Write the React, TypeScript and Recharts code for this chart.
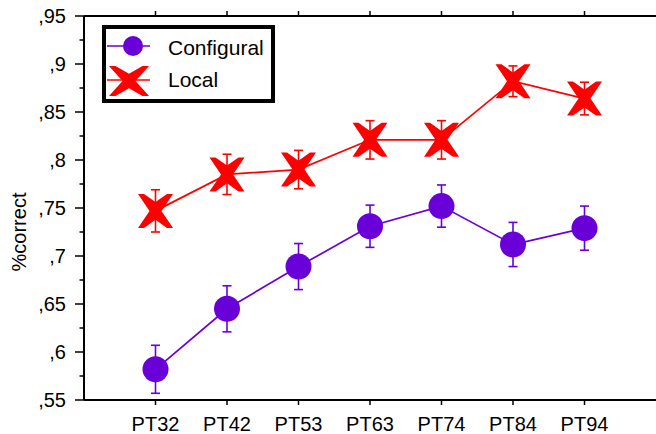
import { LineChart, Line, XAxis, YAxis, ErrorBar, Legend } from "recharts";

const PURPLE = "#6a00d8";
const RED = "#ff0000";
const FONT = "'Liberation Sans', Arial, sans-serif";

// conditions along the x axis
const conditions = ["PT32", "PT42", "PT53", "PT63", "PT74", "PT84", "PT94"];

// proportion correct and its error per condition
const configural = [0.582, 0.645, 0.689, 0.731, 0.752, 0.712, 0.729];
const configuralErr = [0.025, 0.024, 0.024, 0.022, 0.022, 0.023, 0.023];
const local = [0.747, 0.785, 0.79, 0.821, 0.821, 0.882, 0.864];
const localErr = [0.022, 0.021, 0.02, 0.02, 0.02, 0.016, 0.017];

// y axis ticks
const yMajor = [0.55, 0.6, 0.65, 0.7, 0.75, 0.8, 0.85, 0.9, 0.95];
const yMajorLabels = [",55", ",6", ",65", ",7", ",75", ",8", ",85", ",9", ",95"];
const yMinor = [0.575, 0.625, 0.675, 0.725, 0.775, 0.825, 0.875, 0.925];

const data = conditions.map((name, i) => ({
  pos: i + 1,
  name,
  configural: configural[i],
  configuralErr: configuralErr[i],
  local: local[i],
  localErr: localErr[i],
}));
const xTicks = data.map((d) => d.pos);

// chunky "X" marker as a polygon with flat horizontal ends
const crossPoints = (cx: number, cy: number, halfW: number, halfH: number, arm: number) => {
  const a = arm / 2;
  const inner = halfW - a;
  const notchY = (halfH / (halfW - a)) * a;
  const pts = [
    [-halfW, -halfH], [-inner, -halfH], [0, -notchY], [inner, -halfH], [halfW, -halfH],
    [a, 0], [halfW, halfH], [inner, halfH], [0, notchY], [-inner, halfH], [-halfW, halfH], [-a, 0],
  ];
  return pts.map(([x, y]) => `${cx + x},${cy + y}`).join(" ");
};

// eslint-disable-next-line @typescript-eslint/no-explicit-any
const CircleDot = (props: any) => {
  const { cx, cy } = props;
  if (cx == null || cy == null) return null;
  return <circle cx={cx} cy={cy} r={13} fill={PURPLE} />;
};

// eslint-disable-next-line @typescript-eslint/no-explicit-any
const CrossDot = (props: any) => {
  const { cx, cy } = props;
  if (cx == null || cy == null) return null;
  return <polygon points={crossPoints(cx, cy, 17.5, 17, 12)} fill={RED} />;
};

// eslint-disable-next-line @typescript-eslint/no-explicit-any
const YTick = (props: any) => {
  const { x, y, payload } = props;
  const axisX = x + 18;
  const idx = yMajor.indexOf(payload.value);
  const major = idx >= 0;
  return (
    <g>
      <line x1={axisX - (major ? 9 : 4.5)} x2={axisX} y1={y} y2={y} stroke="#000" strokeWidth={1.5} />
      {major && (
        <text x={x} y={y} dy="0.355em" textAnchor="end" fontSize={20} fontFamily={FONT} fill="#000">
          {yMajorLabels[idx]}
        </text>
      )}
    </g>
  );
};

// eslint-disable-next-line @typescript-eslint/no-explicit-any
const YLabel = (props: any) => {
  const { viewBox } = props;
  const cx = 19;
  const cy = viewBox.y + viewBox.height / 2 + 24;
  return (
    <text
      x={cx}
      y={cy}
      transform={`rotate(-90, ${cx}, ${cy})`}
      textAnchor="middle"
      dominantBaseline="central"
      fontSize={20}
      fontFamily={FONT}
      fill="#000"
    >
      %correct
    </text>
  );
};

const LegendBox = () => (
  <div
    style={{
      width: 173,
      height: 78,
      border: "4px solid #000",
      boxSizing: "border-box",
      background: "#fff",
      position: "relative",
    }}
  >
    <svg width={165} height={70} style={{ position: "absolute", left: 0, top: 0 }}>
      <line x1={1} x2={44} y1={17} y2={17} stroke={PURPLE} strokeWidth={1.7} />
      <circle cx={27} cy={17} r={10} fill={PURPLE} />
      <text x={62} y={18} dominantBaseline="central" fontSize={21} fontFamily={FONT} fill="#000">
        Configural
      </text>
      <line x1={1} x2={44} y1={51} y2={51} stroke={RED} strokeWidth={1.7} />
      <polygon points={crossPoints(23, 52, 20, 15, 13)} fill={RED} />
      <text x={62} y={50} dominantBaseline="central" fontSize={21} fontFamily={FONT} fill="#000">
        Local
      </text>
    </svg>
  </div>
);

const tickText = { fontSize: 20, fontFamily: FONT, fill: "#000" };

export default function App() {
  return (
    <div style={{ position: "absolute", left: 0, top: 0, background: "#fff" }}>
      <LineChart width={656} height={434} data={data} margin={{ top: 0, right: 0, bottom: 0, left: 0 }}>
        <XAxis
          dataKey="pos"
          type="number"
          domain={[0, 8]}
          ticks={xTicks}
          interval={0}
          height={34}
          tickSize={5}
          tickMargin={12}
          tickFormatter={(v) => conditions[v - 1]}
          tick={tickText}
          axisLine={{ stroke: "#000", strokeWidth: 2 }}
          tickLine={{ stroke: "#000", strokeWidth: 1.5 }}
        />
        <XAxis
          xAxisId="top"
          orientation="top"
          dataKey="pos"
          type="number"
          domain={[0, 8]}
          ticks={xTicks}
          interval={0}
          height={16}
          tickSize={5}
          tickFormatter={() => ""}
          axisLine={{ stroke: "#000", strokeWidth: 2 }}
          tickLine={{ stroke: "#000", strokeWidth: 1.5 }}
        />
        <YAxis
          type="number"
          domain={[0.55, 0.95]}
          ticks={[...yMajor, ...yMinor].sort((a, b) => a - b)}
          interval={0}
          width={84}
          tickSize={9}
          tickMargin={9}
          tickLine={false}
          tick={<YTick />}
          axisLine={{ stroke: "#000", strokeWidth: 2 }}
          label={<YLabel />}
        />
        <Legend
          layout="horizontal"
          verticalAlign="middle"
          align="center"
          content={() => <LegendBox />}
          wrapperStyle={{ position: "absolute", left: 102, top: 25, width: 173, height: 78 }}
        />
        <Line
          dataKey="configural"
          stroke={PURPLE}
          strokeWidth={1.7}
          dot={<CircleDot />}
          activeDot={false}
          isAnimationActive={false}
        >
          <ErrorBar dataKey="configuralErr" direction="y" width={4.5} stroke={PURPLE} strokeWidth={1.6} isAnimationActive={false} />
        </Line>
        <Line
          dataKey="local"
          stroke={RED}
          strokeWidth={1.7}
          dot={<CrossDot />}
          activeDot={false}
          isAnimationActive={false}
        >
          <ErrorBar dataKey="localErr" direction="y" width={4.5} stroke={RED} strokeWidth={1.6} isAnimationActive={false} />
        </Line>
      </LineChart>
    </div>
  );
}
